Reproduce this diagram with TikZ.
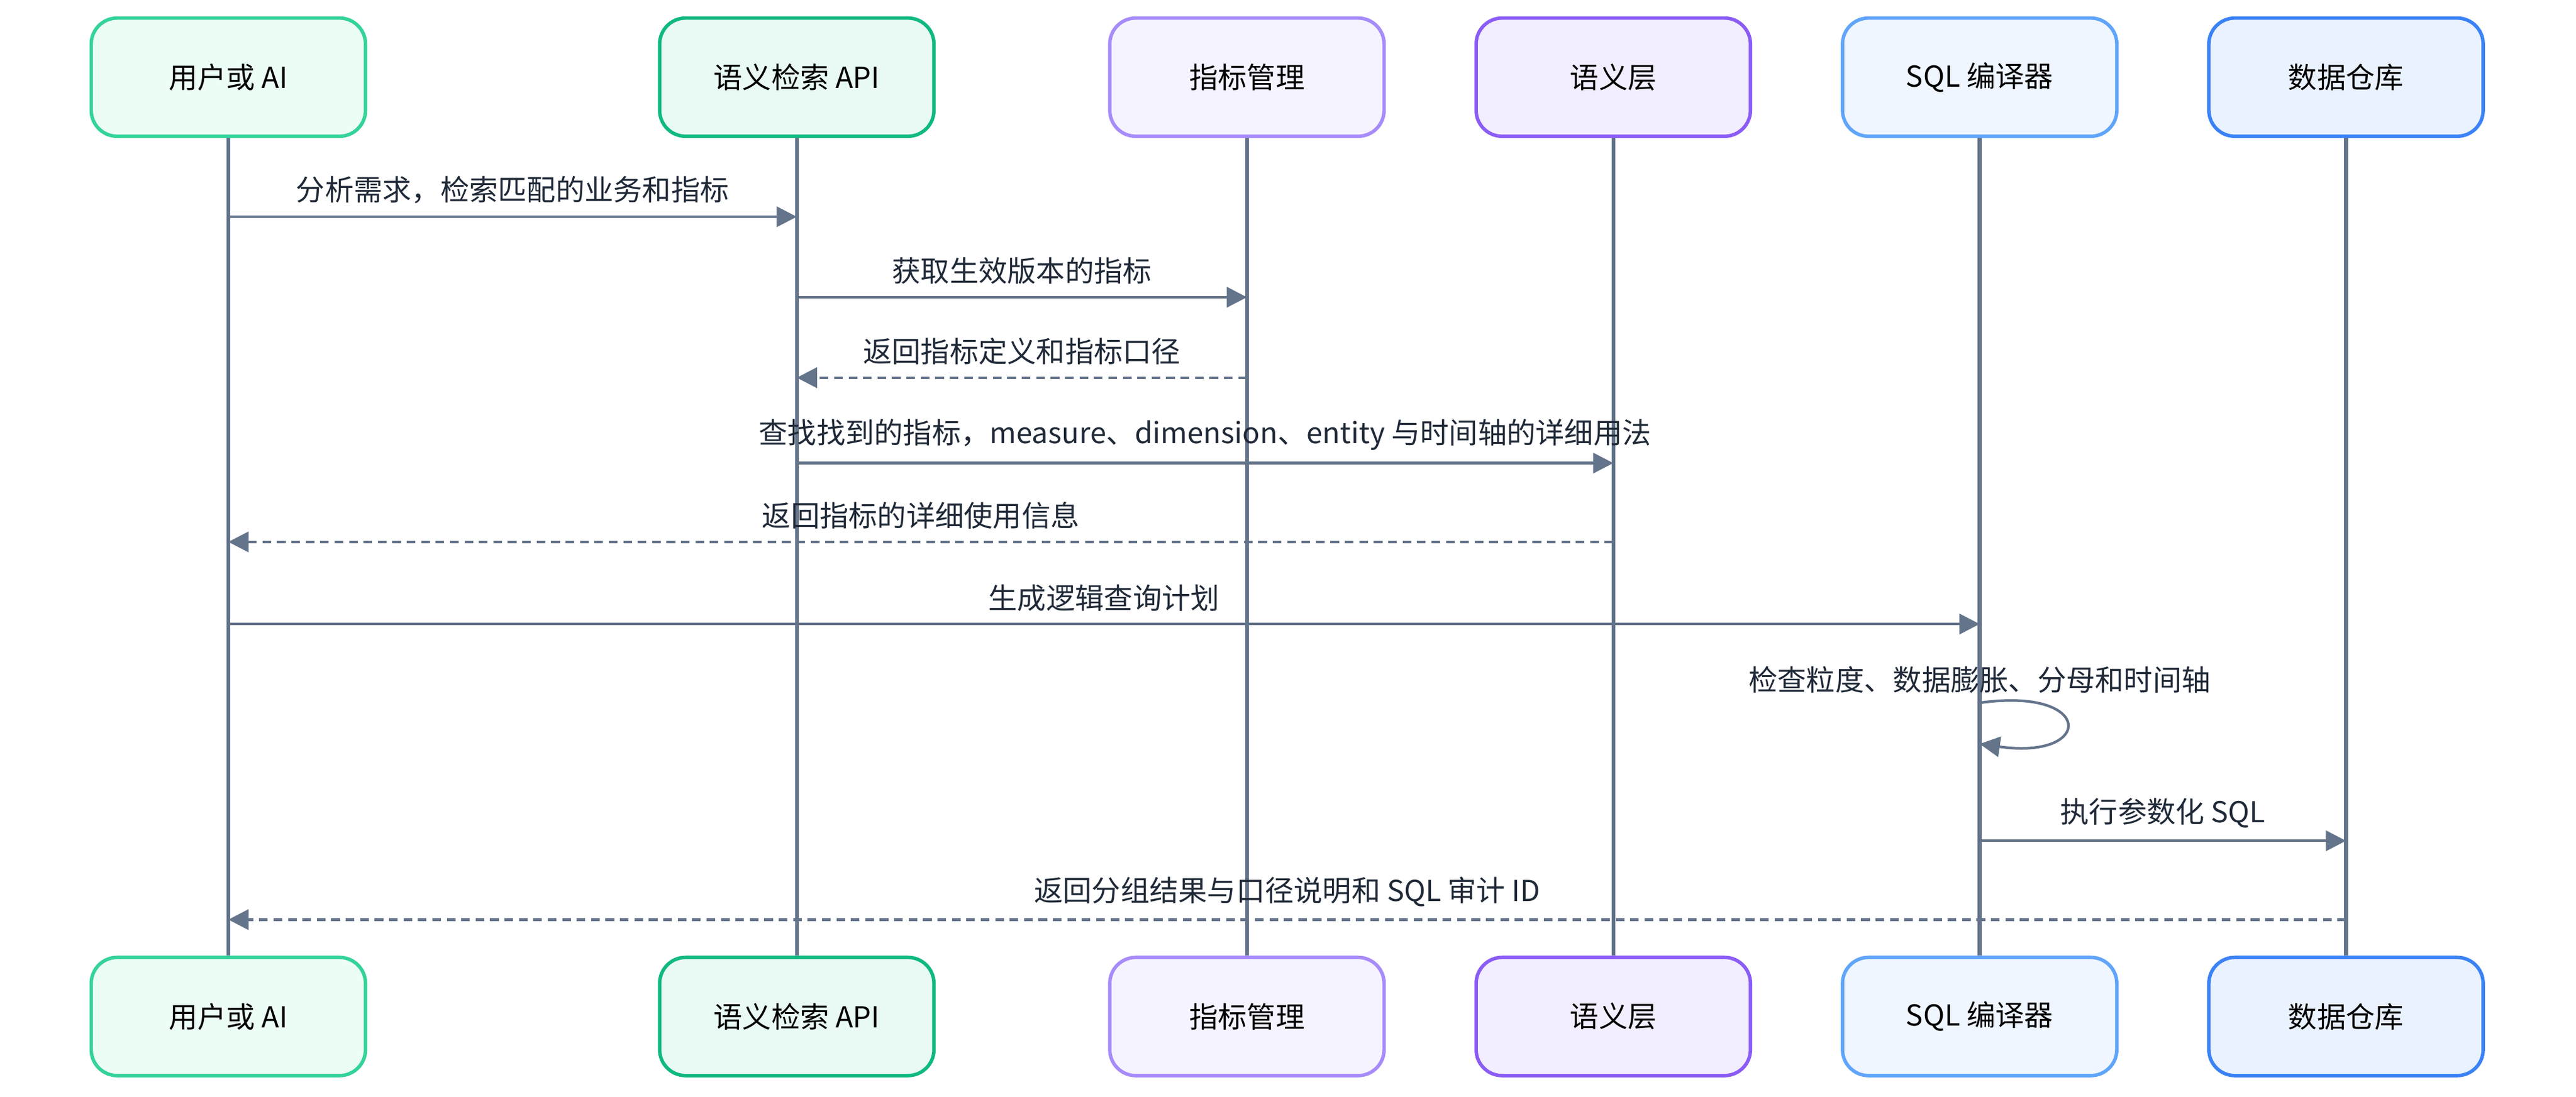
\documentclass[tikz,border=0pt]{standalone}
\usepackage{fontspec}
\setmainfont{Noto Sans CJK SC}
\usetikzlibrary{arrows.meta}
\definecolor{lineC}{HTML}{64748B}
\definecolor{txtC}{HTML}{1F2937}
\tikzset{
  actor/.style={draw=#1, line width=1.2pt, rounded corners=9pt, minimum width=3.34cm, minimum height=1.44cm, font=\fontsize{10}{12}\selectfont},
  life/.style={draw=lineC, line width=1.3pt},
  msg/.style={draw=lineC, line width=0.9pt, -{Triangle[length=7pt,width=7pt]}},
  reply/.style={msg, dash pattern=on 3pt off 2pt},
  lbl/.style={font=\fontsize{10}{12}\selectfont, text=txtC, inner sep=1pt}
}
\begin{document}
\begin{tikzpicture}[x=0.02cm, y=-0.02cm]
\useasboundingbox (0,0) rectangle (1568,668);
% participants
\foreach \n/\x/\c/\f/\t in {1/139/34D399/ECFDF5/用户或 AI, 2/485/10B981/E8FAF3/语义检索 API, 3/759/A78BFA/F5F3FF/指标管理,
  4/982/8B5CF6/F3EEFF/语义层, 5/1205/60A5FA/EFF6FF/SQL 编译器, 6/1428/3B82F6/EAF2FF/数据仓库}{
  \definecolor{bd}{HTML}{\c}\definecolor{bg}{HTML}{\f}
  \node[actor=bd, fill=bg] (t\n) at (\x,47) {\t};
  \node[actor=bd, fill=bg] (b\n) at (\x,619) {\t};
  \draw[life] (t\n) -- (b\n);
}
% messages
\coordinate (a1) at (139,132); \coordinate (a2) at (485,132);
\coordinate (c1) at (485,181); \coordinate (c2) at (759,181);
\coordinate (d1) at (759,230); \coordinate (d2) at (485,230);
\coordinate (e1) at (485,282); \coordinate (e2) at (982,282);
\coordinate (f1) at (982,330); \coordinate (f2) at (139,330);
\coordinate (g1) at (139,380); \coordinate (g2) at (1205,380);
\coordinate (h1) at (1205,428); \coordinate (h2) at (1205,453);
\coordinate (i1) at (1205,512); \coordinate (i2) at (1428,512);
\coordinate (j1) at (1428,560); \coordinate (j2) at (139,560);
\draw[msg] (a1) -- node[lbl, above=3pt] {分析需求，检索匹配的业务和指标} (a2);
\draw[msg] (c1) -- node[lbl, above=3pt] {获取生效版本的指标} (c2);
\draw[reply] (d1) -- node[lbl, above=3pt] {返回指标定义和指标口径} (d2);
\draw[msg] (e1) -- node[lbl, above=3pt] {查找找到的指标，measure、dimension、entity 与时间轴的详细用法} (e2);
\draw[reply] (f1) -- node[lbl, above=3pt] {返回指标的详细使用信息} (f2);
\draw[msg] (g1) -- node[lbl, above=3pt] {生成逻辑查询计划} (g2);
\node[lbl] (hl) at (1205,414) {检查粒度、数据膨胀、分母和时间轴};
\draw[msg] (h1) .. controls (1275,418) and (1275,463) .. (h2);
\draw[msg] (i1) -- node[lbl, above=3pt] {执行参数化 SQL} (i2);
\draw[reply] (j1) -- node[lbl, above=3pt] {返回分组结果与口径说明和 SQL 审计 ID} (j2);
\end{tikzpicture}
\end{document}
